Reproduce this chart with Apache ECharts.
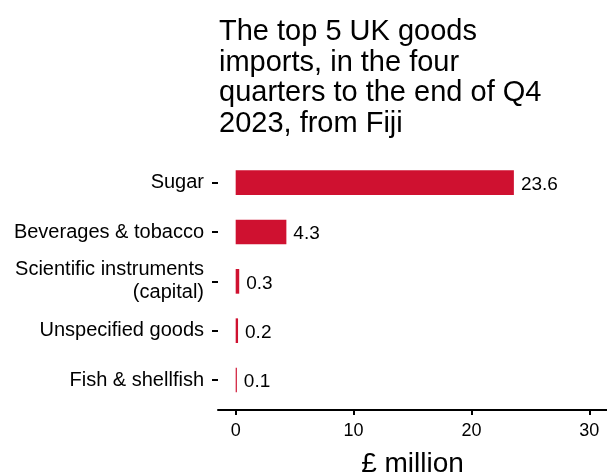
<!DOCTYPE html>
<html>
<head>
<meta charset="utf-8">
<script src="https://cdn.jsdelivr.net/npm/echarts@6/dist/echarts.min.js"></script>
<style>
html,body{margin:0;padding:0;background:#fff;overflow:hidden;}
#chart{width:607px;height:472px;}
</style>
</head>
<body>
<div id="chart"></div>
<script>
const categories = ["Sugar", "Beverages & tobacco", "Scientific instruments\n(capital)", "Unspecified goods", "Fish & shellfish"];
const values = [23.6, 4.3, 0.3, 0.2, 0.1];
const xTicks = [0, 10, 20, 30];
const titleText = "The top 5 UK goods\nimports, in the four\nquarters to the end of Q4\n2023, from Fiji";
const axisName = "£ million";

const FONT = "Liberation Sans, Arial, sans-serif";
const chart = echarts.init(document.getElementById('chart'), null, {renderer: 'canvas'});
chart.setOption({
  backgroundColor: '#ffffff',
  animation: false,
  title: {
    text: titleText,
    left: 214,
    top: 12,
    textStyle: {fontFamily: FONT, fontSize: 29, fontWeight: 'normal', color: '#000', lineHeight: 30.5}
  },
  grid: {left: 218, right: 0, top: 158, bottom: 67.3, containLabel: false, outerBoundsMode: 'none'},
  xAxis: {
    type: 'value',
    min: -1.5,
    max: 31.5,
    offset: 5.3,
    splitLine: {show: false},
    axisLine: {show: true, onZero: false, lineStyle: {color: '#000', width: 2}},
    axisTick: {show: true, length: 5, lineStyle: {color: '#000', width: 2}, customValues: xTicks},
    axisLabel: {customValues: xTicks, fontFamily: FONT, fontSize: 18, color: '#000', margin: 12},
    name: axisName,
    nameLocation: 'middle',
    nameGap: 40,
    nameTextStyle: {fontFamily: FONT, fontSize: 28, color: '#000'}
  },
  yAxis: {
    type: 'category',
    data: categories,
    inverse: true,
    axisLine: {show: false, onZero: false},
    axisTick: {show: true, alignWithLabel: true, length: 6, lineStyle: {color: '#000', width: 2}},
    axisLabel: {fontFamily: FONT, fontSize: 20, color: '#000', margin: 14, lineHeight: 23, align: 'right', padding: [5, 0, 0, 0]},
    splitLine: {show: false}
  },
  series: [{
    type: 'bar',
    data: values,
    barWidth: '50%',
    itemStyle: {color: '#cf1130'},
    label: {show: true, position: 'right', distance: 7, offset: [0, 2], fontFamily: FONT, fontSize: 19, color: '#000'}
  }]
});
</script>
</body>
</html>
